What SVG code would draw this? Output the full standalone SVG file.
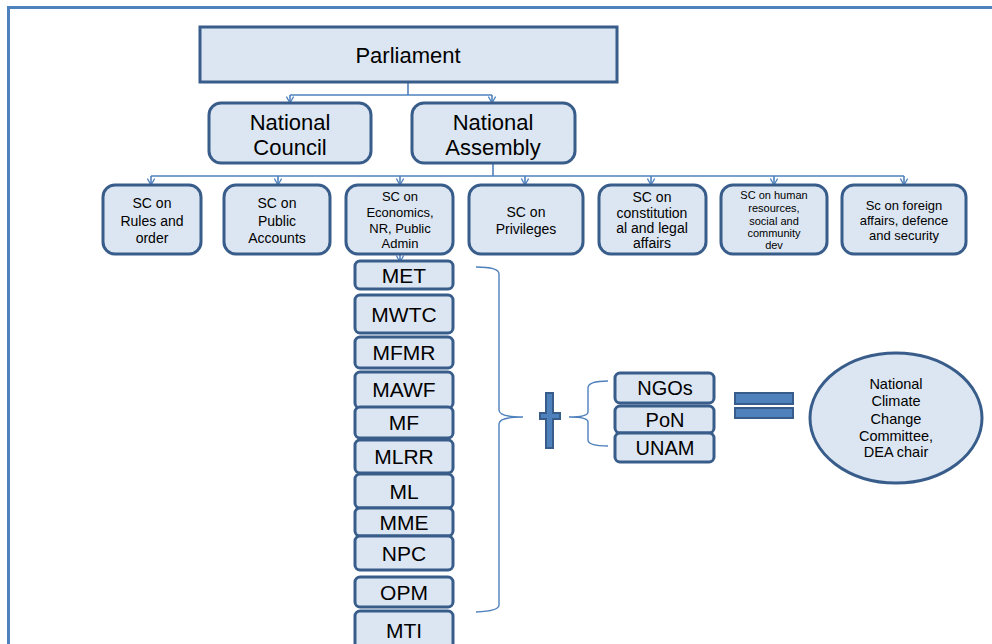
<svg xmlns="http://www.w3.org/2000/svg" width="992" height="644" viewBox="0 0 992 644">
<style>
.box{fill:#dce6f2;stroke:#385d8a;stroke-width:3}
.conn{fill:none;stroke:#4f81bd;stroke-width:1.6}
.brace{fill:none;stroke:#4f81bd;stroke-width:1.4}
.sym{fill:#4f81bd;stroke:#385d8a;stroke-width:2}
text{font-family:"Liberation Sans",Arial,sans-serif;fill:#000;text-anchor:middle}
.t22{font-size:22px}
.t21{font-size:21px}
.t20{font-size:20px}
.t14{font-size:14px}
.t13{font-size:13px}
.t11{font-size:11px}
.t15{font-size:14.5px}
</style>
<defs>
<marker id="arr" viewBox="0 0 10 10" refX="9" refY="5" markerWidth="8" markerHeight="8" markerUnits="userSpaceOnUse" orient="auto">
<path d="M1,0.5 L9,5 L1,9.5" fill="none" stroke="#4f81bd" stroke-width="1.6"/>
</marker>
</defs>
<rect width="992" height="644" fill="#fff"/>
<path d="M8.5,644 L8.5,7.5 L992,7.5" fill="none" stroke="#4f81bd" stroke-width="3"/>

<g id="connectors">
<path class="conn" d="M408,83 V95 M290,95 H492"/>
<path class="conn" d="M290,95 V103" marker-end="url(#arr)"/>
<path class="conn" d="M492,95 V103" marker-end="url(#arr)"/>
<path class="conn" d="M493,163 V176 M151,176 H904"/>
<path class="conn" d="M151,176 V185" marker-end="url(#arr)"/>
<path class="conn" d="M278,176 V185" marker-end="url(#arr)"/>
<path class="conn" d="M400,176 V185" marker-end="url(#arr)"/>
<path class="conn" d="M525,176 V185" marker-end="url(#arr)"/>
<path class="conn" d="M651,176 V185" marker-end="url(#arr)"/>
<path class="conn" d="M774,176 V185" marker-end="url(#arr)"/>
<path class="conn" d="M904,176 V185" marker-end="url(#arr)"/>
<path class="conn" d="M400,254 V262" marker-end="url(#arr)"/>
</g>

<g id="parliament"><rect class="box" x="200" y="27" width="417" height="55"/><text class="t22" x="408" y="63">Parliament</text></g>
<g id="national-council"><rect class="box" x="209" y="103" width="162" height="60" rx="12"/><text class="t22" x="290" y="130">National</text><text class="t22" x="290" y="155">Council</text></g>
<g id="national-assembly"><rect class="box" x="412" y="103" width="163" height="60" rx="12"/><text class="t22" x="493" y="130">National</text><text class="t22" x="493" y="155">Assembly</text></g>

<g id="sc-rules"><rect class="box" x="103" y="185" width="98" height="69" rx="12"/><text class="t14" x="152" y="208">SC on</text><text class="t14" x="152" y="226">Rules and</text><text class="t14" x="152" y="243">order</text></g>
<g id="sc-public-accounts"><rect class="box" x="224" y="185" width="106" height="69" rx="12"/><text class="t14" x="277" y="208">SC on</text><text class="t14" x="277" y="226">Public</text><text class="t14" x="277" y="243">Accounts</text></g>
<g id="sc-economics"><rect class="box" x="346" y="185" width="107" height="69" rx="12"/><text class="t13" x="400" y="201">SC on</text><text class="t13" x="400" y="217">Economics,</text><text class="t13" x="400" y="233">NR, Public</text><text class="t13" x="400" y="248">Admin</text></g>
<g id="sc-privileges"><rect class="box" x="469" y="185" width="114" height="69" rx="12"/><text class="t14" x="526" y="217">SC on</text><text class="t14" x="526" y="234">Privileges</text></g>
<g id="sc-constitutional"><rect class="box" x="599" y="185" width="107" height="69" rx="12"/><text class="t14" x="652" y="202">SC on</text><text class="t14" x="652" y="218">constitution</text><text class="t14" x="652" y="233">al and legal</text><text class="t14" x="652" y="248">affairs</text></g>
<g id="sc-human-resources"><rect class="box" x="721" y="185" width="106" height="69" rx="12"/><text class="t11" x="774" y="199">SC on human</text><text class="t11" x="774" y="212">resources,</text><text class="t11" x="774" y="225">social and</text><text class="t11" x="774" y="237">community</text><text class="t11" x="774" y="249">dev</text></g>
<g id="sc-foreign-affairs"><rect class="box" x="842" y="185" width="124" height="69" rx="12"/><text class="t13" x="904" y="210">Sc on foreign</text><text class="t13" x="904" y="225">affairs, defence</text><text class="t13" x="904" y="240">and security</text></g>

<g id="met"><rect class="box" x="355" y="261" width="98" height="28" rx="5"/><text class="t21" x="404" y="283">MET</text></g>
<g id="mwtc"><rect class="box" x="355" y="295" width="98" height="38" rx="5"/><text class="t21" x="404" y="322">MWTC</text></g>
<g id="mfmr"><rect class="box" x="355" y="337" width="98" height="31" rx="5"/><text class="t21" x="404" y="360">MFMR</text></g>
<g id="mawf"><rect class="box" x="355" y="372" width="98" height="36" rx="5"/><text class="t21" x="404" y="397">MAWF</text></g>
<g id="mf"><rect class="box" x="355" y="407" width="98" height="31" rx="5"/><text class="t21" x="404" y="430">MF</text></g>
<g id="mlrr"><rect class="box" x="355" y="440" width="98" height="33" rx="5"/><text class="t21" x="404" y="464">MLRR</text></g>
<g id="ml"><rect class="box" x="355" y="474" width="98" height="34" rx="5"/><text class="t21" x="404" y="499">ML</text></g>
<g id="mme"><rect class="box" x="355" y="508" width="98" height="28" rx="5"/><text class="t21" x="404" y="530">MME</text></g>
<g id="npc"><rect class="box" x="355" y="536" width="98" height="34" rx="5"/><text class="t21" x="404" y="561">NPC</text></g>
<g id="opm"><rect class="box" x="355" y="577" width="98" height="30" rx="5"/><text class="t21" x="404" y="600">OPM</text></g>
<g id="mti"><rect class="box" x="355" y="611" width="98" height="40" rx="5"/><text class="t21" x="404" y="638">MTI</text></g>

<g id="big-brace"><path class="brace" d="M476,267 Q499,267 499,274 V410 Q499,417 523,417 Q499,417 499,424 V605 Q499,611 476,612"/></g>
<g id="plus"><path class="sym" d="M546,393 H553 V413 H560 V419 H553 V448 H546 V419 H540 V413 H546 Z"/></g>
<g id="small-brace"><path class="brace" d="M608,381 Q588,381 588,388 V412 Q588,417 569,417 Q588,417 588,422 V440 Q588,446 608,446"/></g>

<g id="ngos"><rect class="box" x="615" y="373" width="99" height="30" rx="5"/><text class="t20" x="665" y="395">NGOs</text></g>
<g id="pon"><rect class="box" x="615" y="406" width="99" height="27" rx="5"/><text class="t20" x="665" y="427">PoN</text></g>
<g id="unam"><rect class="box" x="615" y="433" width="99" height="29" rx="5"/><text class="t20" x="665" y="455">UNAM</text></g>

<g id="equals"><rect class="sym" x="735" y="393" width="58" height="11"/><rect class="sym" x="735" y="408" width="58" height="10"/></g>

<g id="nccc"><ellipse class="box" cx="896" cy="418" rx="86" ry="65"/><text class="t15" x="896" y="389">National</text><text class="t15" x="896" y="406">Climate</text><text class="t15" x="896" y="424">Change</text><text class="t15" x="896" y="441">Committee,</text><text class="t15" x="896" y="457">DEA chair</text></g>
</svg>
